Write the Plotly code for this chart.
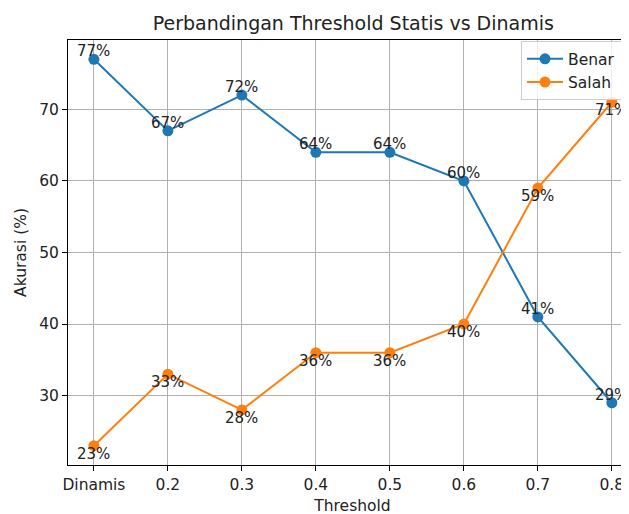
import plotly.graph_objects as go

categories = ["Dinamis", "0.2", "0.3", "0.4", "0.5", "0.6", "0.7", "0.8"]
benar = [77, 67, 72, 64, 64, 60, 41, 29]
salah = [23, 33, 28, 36, 36, 40, 59, 71]
y_ticks = [30, 40, 50, 60, 70]

BLUE = "#1f77b4"
ORANGE = "#ff7f0e"
FONT = "DejaVu Sans, sans-serif"
FS = 15.5
PAD = "\u00a0\u00a0\u00a0"

xpos = list(range(len(categories)))

fig = go.Figure()
fig.add_trace(go.Scatter(x=xpos, y=benar, mode="lines+markers", name="Benar" + PAD,
                         line=dict(color=BLUE, width=2), marker=dict(color=BLUE, size=11)))
fig.add_trace(go.Scatter(x=xpos, y=salah, mode="lines+markers", name="Salah" + PAD,
                         line=dict(color=ORANGE, width=2), marker=dict(color=ORANGE, size=11)))

annotations = []
for i, v in zip(xpos, benar):
    annotations.append(dict(x=i, y=v, text=f"{v}%", showarrow=False, yshift=8,
                            font=dict(family=FONT, size=15, color="#222")))
for i, v in zip(xpos, salah):
    annotations.append(dict(x=i, y=v, text=f"{v}%", showarrow=False, yshift=-8,
                            font=dict(family=FONT, size=15, color="#222")))

fig.update_layout(
    width=629, height=514,
    margin=dict(l=60, r=0, t=32, b=57, autoexpand=False),
    paper_bgcolor="white", plot_bgcolor="white",
    font=dict(family=FONT, size=FS, color="#222"),
    title=dict(text="Perbandingan Threshold Statis vs Dinamis", x=0.549, xanchor="center",
               y=1 - 15 / 514, yanchor="middle", font=dict(size=19, color="#222")),
    annotations=annotations,
    legend=dict(x=(513 - 60) / 569, xanchor="left", y=0.997, yanchor="top",
                bgcolor="rgba(255,255,255,0.8)", bordercolor="#cccccc", borderwidth=1,
                font=dict(size=FS), itemwidth=36),
    showlegend=True,
)
fig.update_xaxes(range=[-0.35, 7.34], tickvals=xpos, ticktext=categories,
                 showgrid=True, gridcolor="#b0b0b0", automargin=False,
                 gridwidth=1, showline=True, linecolor="black", linewidth=1, mirror=True,
                 ticks="outside", ticklen=5, tickcolor="black", zeroline=False,
                 title=dict(text="Threshold", font=dict(size=FS), standoff=7),
                 tickfont=dict(size=FS))
fig.update_yaxes(range=[20.3, 79.7], tickvals=y_ticks, showgrid=True, gridcolor="#b0b0b0",
                 gridwidth=1, showline=True, linecolor="black", linewidth=1, mirror=False,
                 ticks="outside", ticklen=5, tickcolor="black", zeroline=False, automargin=False,
                 title=dict(text="Akurasi (%)", font=dict(size=FS), standoff=8),
                 tickfont=dict(size=FS))

fig.write_html("out.html")
